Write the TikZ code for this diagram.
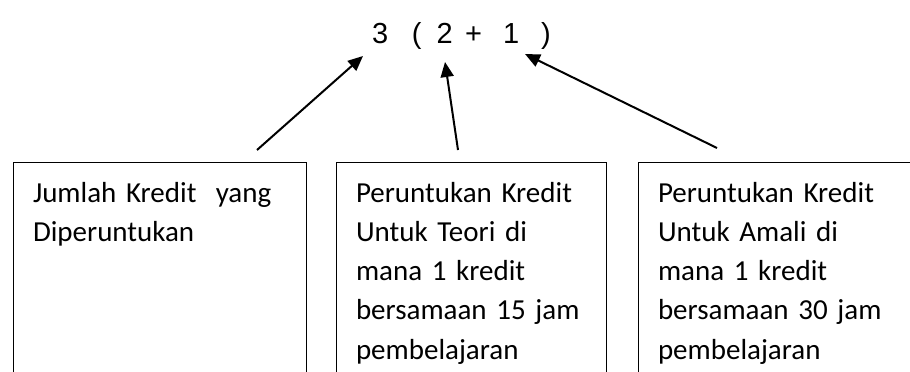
\documentclass[tikz,border=0pt]{standalone}
\usepackage{fontspec}
\setmainfont{Carlito}
\newfontfamily\arialfont{Liberation Sans}
\usetikzlibrary{arrows.meta}

\begin{document}
\begin{tikzpicture}[
      x = 1pt, y = -1pt, % pixel grid, y runs down
      > = {Triangle[length=15pt,width=13pt]}, % arrow head style
      line width = 2pt % line style
      ]

      \tikzset{
      kotak/.style = {draw = black, line width = 1.2pt, rectangle,
        inner sep = 0pt, anchor = north west, minimum height = 240pt},
      isi/.style = {inner sep = 0pt, anchor = north west, text width = 270pt,
        align = left, font = \fontsize{29}{39.3}\selectfont}
      }

      \useasboundingbox (0,0) rectangle (910,372);
      \clip (0,0) rectangle (910,372);

      % formula
      \node[anchor = base, inner sep = 0pt, font = \arialfont\fontsize{29}{34}\selectfont]
        (rumus) at (461.5,43.3)
        {3\hspace{23.6pt}(\hspace{15pt}2\hspace{12.5pt}+\hspace{21pt}1\hspace{22pt})};

      % boxes
      \node[kotak, minimum width = 293pt] (box1) at (13,162) {};
      \node[kotak, minimum width = 270pt] (box2) at (336,162) {};
      \node[kotak, minimum width = 300pt] (box3) at (638,162) {};

      \node[isi] (teks1) at (32,173.5) {\strut Jumlah Kredit\ \ yang\\Diperuntukan};
      \node[isi] (teks2) at (355,173.5) {\strut Peruntukan Kredit\\Untuk Teori di\\mana 1 kredit\\bersamaan 15 jam\\pembelajaran};
      \node[isi] (teks3) at (657,173.5) {\strut Peruntukan Kredit\\Untuk Amali di\\mana 1 kredit\\bersamaan 30 jam\\pembelajaran};

      % arrow ends
      \coordinate (ekor1) at (257,150);
      \coordinate (ekor2) at (458,150);
      \coordinate (ekor3) at (717,148);
      \coordinate (hujung1) at (363,56);
      \coordinate (hujung2) at (445,62);
      \coordinate (hujung3) at (525,54);

      \draw[->] (ekor1) -- (hujung1);
      \draw[->] (ekor2) -- (hujung2);
      \draw[->] (ekor3) -- (hujung3);

    \end{tikzpicture}
\end{document}
